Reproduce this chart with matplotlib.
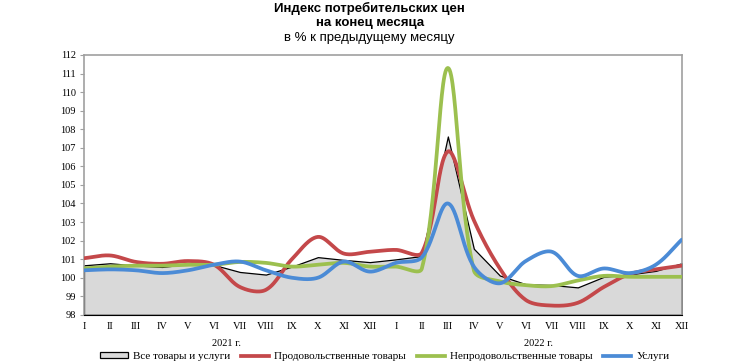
import matplotlib
matplotlib.use("Agg")
import matplotlib.pyplot as plt
import numpy as np
from matplotlib.lines import Line2D
from matplotlib.patches import Patch

months = ["I", "II", "III", "IV", "V", "VI", "VII", "VIII", "IX", "X", "XI", "XII"] * 2
years = ["2021 г.", "2022 г."]

total = [100.67, 100.78, 100.66, 100.58, 100.74, 100.69, 100.31, 100.17, 100.60, 101.11, 100.96, 100.84,
         100.99, 101.17, 107.61, 101.56, 100.12, 99.65, 99.61, 99.48, 100.05, 100.18, 100.37, 100.78]
food = [101.05, 101.2, 100.85, 100.75, 100.9, 100.7, 99.5, 99.35, 101.0, 102.2, 101.3, 101.4,
        101.5, 101.35, 106.8, 103.1, 100.5, 98.8, 98.5, 98.65, 99.5, 100.2, 100.45, 100.65]
nonfood = [100.5, 100.6, 100.65, 100.65, 100.7, 100.7, 100.85, 100.8, 100.6, 100.7, 100.8, 100.6,
           100.6, 100.5, 111.3, 100.4, 99.8, 99.6, 99.55, 99.85, 100.1, 100.05, 100.05, 100.05]
services = [100.4, 100.45, 100.4, 100.25, 100.4, 100.7, 100.87, 100.4, 100.0, 100.0, 100.87, 100.33,
            100.8, 101.1, 104.0, 100.6, 99.7, 100.9, 101.4, 100.1, 100.5, 100.25, 100.7, 102.05]

labels = ["Все товары и услуги", "Продовольственные товары", "Непродовольственные товары", "Услуги"]
colors = ["#c4484a", "#9cc04f", "#4b8bd6"]

# pixel scale of the plot (px per unit) used to weight the smoothing like Excel does
SX, SY = 26.0, 18.57


def smooth(x, y, steps=30):
    # Excel-style smoothed line: Bezier segments, control arms weighted by segment lengths
    p = np.column_stack([np.asarray(x, float) * SX, np.asarray(y, float) * SY])
    n = len(p)
    out = []
    ctrl_in, ctrl_out = [None] * n, [None] * n
    for i in range(n):
        a = p[max(i - 1, 0)]
        b = p[min(i + 1, n - 1)]
        d0 = np.linalg.norm(p[i] - a)
        d1 = np.linalg.norm(b - p[i])
        tot = d0 + d1 if d0 + d1 > 0 else 1.0
        tang = (b - a) / 3.0
        ctrl_in[i] = p[i] - tang * d0 / tot
        ctrl_out[i] = p[i] + tang * d1 / tot
    t = np.linspace(0, 1, steps)[:, None]
    for i in range(n - 1):
        p0, p1, p2, p3 = p[i], ctrl_out[i], ctrl_in[i + 1], p[i + 1]
        b = (1 - t) ** 3 * p0 + 3 * (1 - t) ** 2 * t * p1 + 3 * (1 - t) * t ** 2 * p2 + t ** 3 * p3
        out.append(b)
    out = np.vstack(out)
    return out[:, 0] / SX, out[:, 1] / SY


fig = plt.figure(figsize=(7.5, 3.64), dpi=100)
ax = fig.add_axes([0.112, 0.135, 0.797, 0.714])

x = np.arange(len(months))
ax.fill_between(x, total, 98, facecolor="#d9d9d9", edgecolor="black", linewidth=0.9, zorder=2)
for series, c in zip([food, nonfood, services], colors):
    sx, sy = smooth(x, series)
    ax.plot(sx, sy, color=c, linewidth=2.7, solid_capstyle="round", zorder=3)

ax.set_xlim(0, 23)
ax.set_ylim(98, 112)
ax.set_yticks(np.arange(98, 113, 1))
ax.set_xticks(x, months)
for s in ["top", "right", "left"]:
    ax.spines[s].set_color("#a0a0a0")
    ax.spines[s].set_linewidth(1.2)
ax.spines["bottom"].set_color("black")
ax.tick_params(axis="y", length=3, color="#a0a0a0", pad=3, labelsize=7.5)
ax.tick_params(axis="x", length=0, pad=5, labelsize=7.5)
for lab in ax.get_xticklabels() + ax.get_yticklabels():
    lab.set_family("Liberation Serif")

tr = ax.get_xaxis_transform()
ax.text(5.5, -0.11, years[0], transform=tr, ha="center", va="center",
        family="Liberation Serif", fontsize=7.5)
ax.text(17.5, -0.11, years[1], transform=tr, ha="center", va="center",
        family="Liberation Serif", fontsize=7.5)

fig.text(0.493, 0.978, "Индекс потребительских цен", ha="center", va="center",
         family="Liberation Sans", weight="bold", fontsize=9.5)
fig.text(0.493, 0.937, "на конец месяца", ha="center", va="center",
         family="Liberation Sans", weight="bold", fontsize=9.5)
fig.text(0.493, 0.895, "в % к предыдущему месяцу", ha="center", va="center",
         family="Liberation Sans", fontsize=9.5)

handles = [Patch(facecolor="#d9d9d9", edgecolor="black", linewidth=0.9)] + \
          [Line2D([0], [0], color=c, linewidth=2.7) for c in colors]
fig.legend(handles, labels, loc="center", bbox_to_anchor=(0.513, 0.02), ncol=4, frameon=False,
           prop={"family": "Liberation Serif", "size": 8}, handlelength=2.5, handleheight=0.5,
           columnspacing=1.0, handletextpad=0.45, borderaxespad=0)

fig.savefig("out.png", dpi=100)
